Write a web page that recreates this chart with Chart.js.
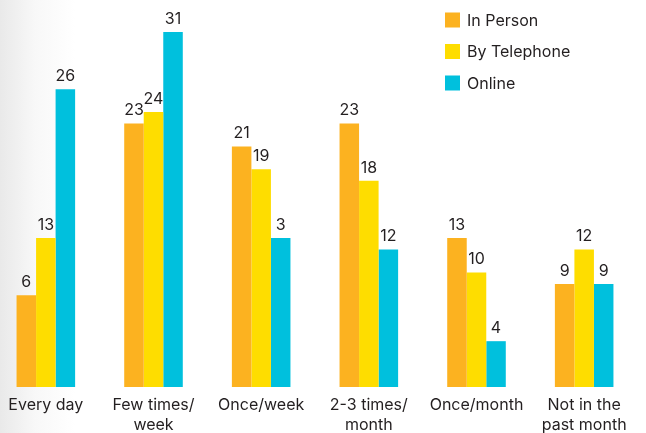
<!DOCTYPE html>
<html lang="en">
<head>
  <meta charset="UTF-8">
  <title>Contact frequency by channel</title>
  <script src="https://cdn.jsdelivr.net/npm/chart.js"></script>
  <style>
    html, body {
      margin: 0;
      padding: 0;
      width: 646px;
      height: 433px;
      overflow: hidden;
      background: linear-gradient(to right, #e9e9e9 0px, #f8f8f8 35px, #ffffff 75px);
    }
    .wrap {
      position: absolute;
      left: -8px;
      top: 0;
      width: 654px;
      height: 433px;
    }
  </style>
</head>
<body>
  <div class="wrap"><canvas id="chart"></canvas></div>

  <script>
    // Categories (multi-line labels as arrays)
    const categories = [
      'Every day',
      ['Few times/', 'week'],
      'Once/week',
      ['2-3 times/', 'month'],
      'Once/month',
      ['Not in the', 'past month']
    ];

    // Bar heights as drawn in the picture
    const inPerson = [8, 23, 21, 23, 13, 9];
    const byTelephone = [13, 24, 19, 18, 10, 12];
    const online = [26, 31, 13, 12, 4, 9];

    // Numbers printed above the bars
    const inPersonLabels = ['6', '23', '21', '23', '13', '9'];
    const byTelephoneLabels = ['13', '24', '19', '18', '10', '12'];
    const onlineLabels = ['26', '31', '3', '12', '4', '9'];

    const FONT = 'Inter, "Noto Sans", sans-serif';
    const TEXT = '#231f20';

    // Value labels on top of every bar
    const valueLabels = {
      id: 'valueLabels',
      afterDatasetsDraw(chart) {
        const ctx = chart.ctx;
        ctx.save();
        ctx.font = '16px ' + FONT;
        ctx.fillStyle = TEXT;
        ctx.textAlign = 'center';
        ctx.textBaseline = 'bottom';
        chart.data.datasets.forEach((ds, i) => {
          chart.getDatasetMeta(i).data.forEach((bar, j) => {
            ctx.fillText(ds.printed[j], bar.x, bar.y - 5);
          });
        });
        ctx.restore();
      }
    };

    // Vertical legend at the top right
    const sideLegend = {
      id: 'sideLegend',
      afterDraw(chart) {
        const ctx = chart.ctx;
        ctx.save();
        ctx.font = '16px ' + FONT;
        ctx.textBaseline = 'middle';
        chart.data.datasets.forEach((ds, i) => {
          const y = 20 + i * 31.5;
          ctx.fillStyle = ds.backgroundColor;
          ctx.fillRect(453, y - 7.5, 15, 15);
          ctx.fillStyle = TEXT;
          ctx.fillText(ds.label, 475, y + 1);
        });
        ctx.restore();
      }
    };

    new Chart(document.getElementById('chart'), {
      type: 'bar',
      data: {
        labels: categories,
        datasets: [
          { label: 'In Person', data: inPerson, printed: inPersonLabels, backgroundColor: '#fcb220' },
          { label: 'By Telephone', data: byTelephone, printed: byTelephoneLabels, backgroundColor: '#fedd00' },
          { label: 'Online', data: online, printed: onlineLabels, backgroundColor: '#00c0dd' }
        ]
      },
      options: {
        responsive: true,
        maintainAspectRatio: false,
        animation: false,
        layout: { padding: { top: 9, right: 8, left: 0, bottom: 0 } },
        datasets: {
          bar: { categoryPercentage: 0.544, barPercentage: 1.0 }
        },
        plugins: {
          legend: { display: false },
          tooltip: { enabled: false }
        },
        scales: {
          x: {
            grid: { display: false, drawTicks: false },
            border: { display: false },
            afterFit(scale) { scale.height = 46; },
            ticks: {
              color: TEXT,
              font: { family: FONT, size: 16, lineHeight: 1.2 },
              padding: 9,
              maxRotation: 0,
              autoSkip: false
            }
          },
          y: {
            display: false,
            min: 0,
            max: 33
          }
        }
      },
      plugins: [valueLabels, sideLegend]
    });
  </script>
</body>
</html>
